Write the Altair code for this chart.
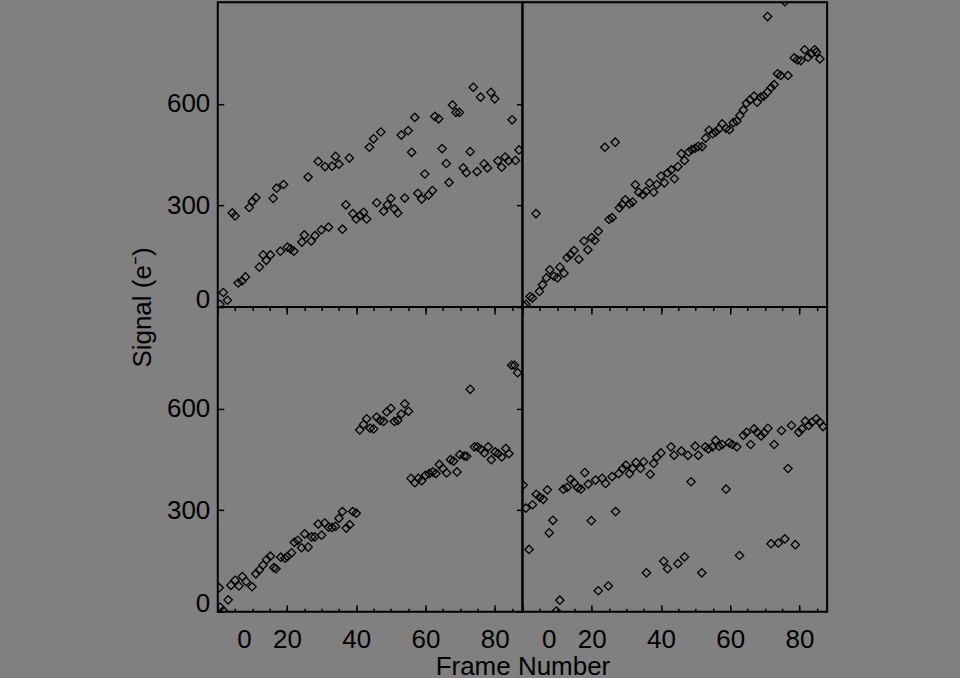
import altair as alt
import pandas as pd

# ---------------- data ----------------
tl_x = [4.2, 5, 9.1, 10, 11, 16, 17, 19, 26.1, 29, 31, 33, 34, 35, 38, 43.8, 45, 47.1, 53, 55,
        56.9, 56, 62.7, 63.8, 64.8, 67.8, 68.8, 69.8, 66, 73.8, 75.9, 78.9, 80, 85,
        1.6, 0.6, 2.8, 5.9, 7, 8, 12, 13.1, 14, 15.2, 18.1, 20.1, 21, 22, 24.3, 25, 27, 28.1,
        29.9, 32, 36, 37, 39, 40, 41.1, 42.1, 43, 45.9, 47.9, 49, 50, 51, 52, 54, 57.8, 58.9,
        59.8, 60.9, 62, 66.8, 70.9, 71.8, 72.9, 74.9, 76.9, 77.9, 80.9, 82, 83, 84, 86, 87]
tl_y = [278, 269, 294, 312, 323, 321, 351, 362, 384, 430, 415, 416, 445, 422, 440, 472, 497, 517, 508, 521,
        560, 457, 563, 556, 468, 597, 575, 575, 424, 649, 620, 634, 615, 553,
        43, 8, 20, 71, 77, 89, 118, 154, 138, 154, 165, 177, 172, 165, 192, 213, 195, 211,
        228, 236, 230, 302, 276, 260, 270, 280, 260, 308, 283, 302, 321, 290, 278, 322, 336, 319,
        393, 331, 344, 368, 411, 397, 459, 400, 423, 411, 432, 413, 443, 432, 433, 464]

tr_x = [3.9, 23.8, 26.8, 70.8, 75.8,
        0.5, 1, 2.2, 2.9, 4.9, 5.8, 6.9, 7.9, 9.1, 10.1, 10.8, 12, 12.9, 13.9, 14.9, 16.3, 17.8,
        18.9, 20, 20.9, 21.9, 25, 25.9, 28, 28.8, 29.7, 30.9, 31.8, 32.6, 33.6, 34.8, 35.7, 36.7,
        37.9, 38.8, 40, 41, 41.9, 43, 43.9, 44.9, 45.9, 46.8, 48, 48.9, 49.9, 50.8, 51.9, 52.9,
        53.9, 54.9, 55.8, 56.8, 57.7, 58.8, 59.8, 60.9, 61.9, 62.8, 63.8, 64.7, 65.7, 66.9, 67.8,
        68.8, 69.7, 70.8, 71.8, 72.7, 73.7, 74.6, 76.7, 78.5, 79.4, 80.4, 81.5, 82.5, 83.4, 84.4,
        84.9, 85.9]
tr_y = [276, 472, 487, 858, 902,
        3, 8, 31, 27, 46, 66, 86, 110, 91, 86, 118, 100, 146, 155, 167, 141, 195,
        169, 205, 197, 224, 259, 264, 293, 303, 317, 305, 310, 361, 339, 332, 342, 366,
        339, 362, 387, 367, 396, 405, 379, 415, 453, 433, 458, 465, 469, 475, 474, 499,
        522, 512, 517, 527, 541, 528, 524, 545, 549, 566, 582, 602, 612, 623, 605,
        620, 623, 635, 648, 657, 689, 684, 684, 736, 730, 728, 760, 738, 748, 760,
        753, 733]

bl_x = [0.4, 0.7, 1.6, 3, 3.8, 5, 6.1, 7.1, 8.2, 9.9, 11, 12, 13.1, 14.1, 15.2, 16.2, 16.8, 18.2,
        19.4, 20.1, 21.3, 22.1, 23.1, 24.2, 25.1, 26.1, 27.1, 28, 29, 30, 30.9, 32, 33, 34, 35,
        36, 37.1, 38.1, 39, 40,
        41, 42.1, 43, 44, 45, 45.9, 46.9, 47.9, 48.8, 50, 51, 52, 53, 54, 55.1,
        55.8, 56.9, 57.9, 58.9, 60, 61.1, 62.1, 63, 64, 65, 66.1, 67.2, 68.1, 69.1, 69.9, 71.2,
        71.9, 72.9, 74.1, 75, 76, 77, 78.1, 79, 80.1, 81, 82, 83.2, 84.1, 84.9, 85.7, 86.6]
bl_y = [71, 13, 3, 35, 78, 93, 76, 104, 89, 74, 112, 123, 138, 154, 164, 130, 127, 161,
        158, 163, 174, 205, 211, 189, 230, 191, 221, 221, 259, 226, 262, 250, 249, 252, 276,
        296, 247, 257, 296, 291,
        537, 553, 570, 542, 540, 575, 565, 562, 590, 601, 562, 565, 584, 614, 592,
        394, 381, 394, 387, 403, 408, 413, 408, 435, 423, 410, 449, 445, 413, 464, 460,
        459, 657, 487, 487, 480, 469, 487, 449, 472, 467, 457, 482, 467, 728, 728, 706]

br_x = [0.2, 1, 1.9, 2.9, 4, 5, 6, 7.2, 7.7, 8.8, 9.8, 10.8, 11.8, 12.9, 13.9, 14.9, 16, 16.9,
        18, 19, 19.9, 21.1, 21.9, 23, 24, 24.8, 25.9, 26.9, 27.8, 29, 29.9, 30.9, 31.8, 32.8,
        34.1, 35, 35.8, 36.9, 37.9, 38.8, 40, 40.8, 41.9, 42.9, 43.8, 44.9, 45.9, 46.8, 47.8,
        48.7, 49.9, 50.8, 51.8, 52.8, 53.7, 54.9, 55.8, 56.8, 57.7, 58.8, 59.7, 60.6, 61.9,
        62.7, 63.8, 64.7, 65.9, 66.9, 67.8, 68.9, 69.8, 70.9, 71.8, 72.7, 73.9, 74.8, 75.8,
        76.7, 77.7, 78.8, 79.8, 80.7, 81.7, 82.7, 83.6, 84.9, 85.9, 86.8]
br_y = [374, 306, 184, 316, 347, 338, 332, 360, 233, 270, 2, 34, 362, 367, 391, 381, 366, 362,
        411, 377, 269, 389, 62, 394, 379, 76, 399, 296, 408, 423, 433, 408, 423, 441,
        423, 443, 115, 406, 438, 457, 469, 149, 127, 487, 462, 142, 475, 162, 462,
        384, 489, 462, 115, 487, 481, 487, 506, 489, 494, 362, 499, 494, 487,
        166, 521, 530, 494, 540, 530, 519, 528, 542, 201, 494, 203, 535, 215,
        423, 550, 198, 530, 540, 563, 550, 560, 570, 560, 547]

x_major = [0, 20, 40, 60, 80]
x_minor = [0, 5, 10, 15, 20, 25, 30, 35, 40, 45, 50, 55, 60, 65, 70, 75, 80, 85]
y_major = [0, 300, 600]

x_title = "Frame Number"
y_title = "Signal (e\u207b)"

# ---------------- styling ----------------
FONT = "Liberation Sans"
PANEL = 305
BG = "#808080"

xs = alt.Scale(domain=[0, 88], nice=False, zero=False)
ys = alt.Scale(domain=[0, 900], nice=False, zero=False)


def base(df, xaxis=None, yaxis=None, visible=False):
    if visible:
        m = alt.Chart(df).mark_point(shape="diamond", filled=False, size=70, strokeWidth=1.3,
                                     color="black", opacity=1, clip=True)
    else:
        m = alt.Chart(df).mark_point(opacity=0, clip=True)
    xenc = alt.X("x:Q", scale=xs, axis=xaxis) if xaxis is not None else alt.X("x:Q", scale=xs, axis=None)
    yenc = alt.Y("y:Q", scale=ys, axis=yaxis) if yaxis is not None else alt.Y("y:Q", scale=ys, axis=None)
    return m.encode(x=xenc, y=yenc)


def tick_axis(orient, values, size):
    return alt.Axis(orient=orient, values=values, labels=False, domain=False,
                    grid=False, ticks=True, tickSize=size, tickWidth=1.5,
                    tickColor="black", offset=-size, title=None)


def panel(xv, yv, left, bottom, ytitle=None, xtitle=None):
    df = pd.DataFrame({"x": xv, "y": yv})
    layers = []
    if left:
        ykw = dict(orient="left", values=y_major, ticks=False, tickSize=0,
                   domain=False, grid=False, labelPadding=8,
                   labelFlush=True, labelFlushOffset=5,
                   labelFont=FONT, labelFontSize=26, labelColor="black")
        if ytitle:
            ykw.update(title=ytitle, titleX=-67, titleY=PANEL, titleAngle=270,
                       titleAlign="center", titleBaseline="alphabetic",
                       titleFont=FONT, titleFontSize=26, titleFontWeight="normal",
                       titleColor="black")
        else:
            ykw.update(title=None)
        layers.append(base(df, yaxis=alt.Axis(**ykw)))
        layers.append(base(df, yaxis=tick_axis("left", y_major, 6)))
        layers.append(base(df, yaxis=tick_axis("right", y_major, 6)))
    if bottom:
        xkw = dict(orient="bottom", values=x_major, ticks=False, tickSize=0,
                   domain=False, grid=False, labelPadding=15,
                   labelFlush=True, labelFlushOffset=-19,
                   labelFont=FONT, labelFontSize=26, labelColor="black")
        if xtitle:
            xkw.update(title=xtitle, titleX=PANEL, titleY=63,
                       titleAlign="center", titleBaseline="alphabetic",
                       titleFont=FONT, titleFontSize=26, titleFontWeight="normal",
                       titleColor="black")
        else:
            xkw.update(title=None)
        layers.append(base(df, xaxis=alt.Axis(**xkw)))
        layers.append(base(df, xaxis=tick_axis("bottom", x_major, 7)))
        layers.append(base(df, xaxis=tick_axis("bottom", x_minor, 3.5)))
        layers.append(base(df, xaxis=tick_axis("top", x_major, 7)))
        layers.append(base(df, xaxis=tick_axis("top", x_minor, 3.5)))
    layers.append(base(df, visible=True))
    return alt.layer(*layers).resolve_axis(x="independent", y="independent").properties(
        width=PANEL, height=PANEL
    )


tl = panel(tl_x, tl_y, left=True, bottom=False, ytitle=y_title)
tr = panel(tr_x, tr_y, left=False, bottom=False)
bl = panel(bl_x, bl_y, left=True, bottom=True, xtitle=x_title)
br = panel(br_x, br_y, left=False, bottom=True)

chart = alt.concat(tl, tr, bl, br, columns=2, spacing=0, bounds="flush").properties(
    padding={"left": 129, "top": 1, "right": 132, "bottom": 10},
    background=BG,
).configure_view(
    stroke="black", strokeWidth=2
).configure_axis(
    grid=False
)

chart.save("out.html", embed_options={"renderer": "svg", "actions": False})
